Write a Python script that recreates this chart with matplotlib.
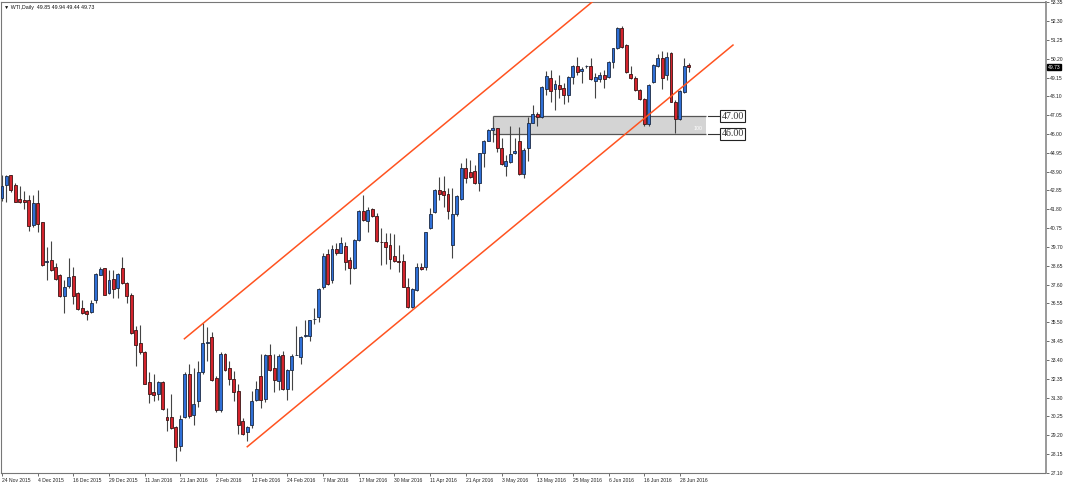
import numpy as np
import matplotlib
matplotlib.use("Agg")
import matplotlib.pyplot as plt
from matplotlib.transforms import blended_transform_factory

plt.rcParams['font.family'] = ['Liberation Sans', 'DejaVu Sans']

# WTI daily OHLC, bar 0 = 24 Nov 2015
opens = [42.43, 43.13, 43.69, 43.13, 42.38, 42.30, 42.30, 40.92, 42.15, 41.10,
         38.84, 38.97, 38.59, 38.12, 36.95, 37.51, 38.07, 37.15, 36.29, 36.12,
         36.07, 36.76, 38.16, 38.50, 37.15, 37.90, 37.41, 38.54, 37.69, 37.04,
         35.07, 34.34, 33.86, 32.17, 31.61, 31.51, 32.19, 30.20, 30.20, 29.66,
         28.61, 30.22, 32.60, 30.35, 31.10, 32.75, 34.34, 34.70, 32.41, 30.63,
         33.72, 32.94, 32.32, 31.66, 29.98, 29.36, 29.79, 31.14, 32.51, 31.24,
         33.67, 32.94, 32.23, 33.67, 31.80, 32.83, 33.67, 33.54, 34.74, 34.74,
         35.66, 35.79, 37.47, 39.29, 37.88, 39.60, 39.38, 39.75, 39.00, 38.51,
         40.09, 41.71, 41.17, 41.82, 41.43, 40.00, 40.00, 39.81, 39.21, 38.94,
         38.92, 37.49, 36.33, 37.30, 38.60, 38.60, 40.74, 41.63, 42.88, 42.82,
         42.65, 39.81, 41.52, 42.36, 44.09, 43.90, 43.96, 43.25, 44.92, 45.63,
         46.20, 46.32, 45.20, 44.23, 44.46, 44.94, 45.63, 43.75, 45.20, 46.63,
         47.10, 46.93, 48.51, 49.14, 48.51, 48.73, 48.55, 48.17, 49.16, 49.79,
         49.53, 49.77, 49.79, 48.97, 49.07, 49.29, 49.20, 50.00, 50.78, 51.89,
         50.96, 49.35, 49.10, 48.45, 47.93, 46.54, 48.88, 49.81, 50.26, 49.29,
         50.50, 47.77, 46.82, 48.32, 49.85]
highs = [43.70, 43.74, 43.74, 43.28, 43.09, 42.81, 42.62, 42.62, 42.86, 41.10,
         39.68, 40.05, 38.78, 38.22, 37.88, 39.10, 38.59, 37.19, 36.76, 36.20,
         36.76, 38.26, 38.59, 38.54, 38.40, 38.40, 38.26, 39.12, 37.75, 37.13,
         35.32, 35.35, 33.91, 32.70, 32.60, 32.23, 32.23, 30.73, 31.51, 29.70,
         30.32, 32.75, 33.16, 32.94, 33.35, 35.45, 35.22, 34.94, 32.51, 33.82,
         33.76, 33.35, 32.79, 32.04, 30.17, 29.70, 31.66, 32.23, 33.72, 33.72,
         34.29, 33.72, 33.72, 33.91, 32.88, 33.72, 35.32, 34.72, 35.60, 35.64,
         36.29, 37.41, 39.34, 39.57, 39.81, 39.90, 40.28, 39.99, 39.15, 40.14,
         41.76, 42.60, 41.95, 41.89, 41.58, 40.74, 40.46, 40.46, 40.40, 39.81,
         39.29, 37.99, 37.39, 38.79, 38.79, 40.55, 41.85, 42.93, 43.58, 43.66,
         42.97, 42.97, 42.60, 44.36, 44.68, 44.55, 44.27, 44.96, 45.67, 46.26,
         46.39, 46.35, 45.76, 44.83, 46.45, 45.76, 46.41, 45.20, 46.97, 47.62,
         47.25, 48.68, 49.51, 49.57, 49.01, 49.29, 48.83, 49.24, 49.85, 50.28,
         49.76, 49.85, 50.26, 49.38, 49.48, 49.57, 50.07, 50.82, 51.99, 52.04,
         51.00, 49.79, 49.24, 48.51, 47.99, 48.79, 49.89, 50.46, 50.63, 50.59,
         50.55, 47.90, 48.45, 50.26, 49.94]
lows = [42.24, 42.19, 42.77, 42.19, 42.15, 41.81, 40.60, 40.84, 40.56, 38.63,
        37.88, 38.35, 37.88, 36.91, 36.01, 37.41, 36.50, 36.20, 35.97, 35.64,
        36.01, 36.57, 38.12, 37.00, 37.10, 36.87, 36.85, 37.66, 36.57, 34.85,
        33.07, 33.72, 32.04, 31.01, 31.10, 31.14, 30.63, 29.45, 29.57, 27.77,
        28.30, 30.17, 30.17, 29.79, 30.77, 32.60, 33.35, 32.23, 30.50, 30.50,
        32.79, 32.00, 31.10, 29.27, 29.23, 28.86, 29.60, 31.10, 30.73, 31.07,
        32.79, 31.63, 31.70, 31.74, 31.14, 31.70, 33.65, 33.16, 34.66, 34.48,
        35.41, 35.54, 37.38, 37.60, 37.69, 39.25, 39.34, 38.40, 37.66, 38.47,
        40.03, 41.15, 40.55, 41.39, 40.00, 38.69, 38.73, 38.47, 38.88, 38.32,
        37.45, 36.28, 36.28, 37.24, 38.42, 38.42, 40.70, 41.57, 42.32, 41.95,
        41.26, 39.10, 41.45, 42.32, 43.25, 43.53, 43.21, 42.84, 44.18, 45.61,
        45.57, 44.98, 44.27, 43.66, 44.36, 44.86, 43.71, 43.53, 44.51, 46.60,
        46.46, 46.87, 48.17, 47.77, 47.34, 48.03, 47.65, 47.77, 48.77, 49.29,
        48.83, 49.66, 49.01, 47.99, 48.92, 48.55, 49.10, 49.70, 50.74, 50.81,
        49.38, 49.07, 48.40, 47.90, 46.45, 46.46, 48.83, 49.76, 48.51, 49.01,
        47.77, 46.04, 46.78, 48.27, 49.44]
closes = [43.09, 43.65, 42.90, 42.21, 42.21, 42.23, 40.88, 42.15, 40.97, 38.72,
          38.91, 38.40, 37.94, 36.96, 37.47, 38.03, 36.96, 36.22, 36.03, 35.97,
          36.59, 38.18, 38.46, 37.04, 37.88, 37.38, 38.18, 37.69, 36.95, 34.90,
          34.23, 33.86, 32.08, 31.51, 31.44, 32.19, 30.69, 30.03, 29.60, 28.54,
          30.13, 32.60, 30.26, 30.97, 32.73, 34.34, 34.42, 32.26, 30.63, 33.72,
          32.83, 32.32, 31.61, 29.79, 29.27, 29.66, 31.10, 31.76, 31.16, 33.67,
          32.83, 32.26, 33.63, 31.80, 32.83, 33.63, 33.70, 34.70, 34.77, 35.60,
          35.71, 37.38, 39.21, 37.66, 39.57, 39.34, 39.90, 38.87, 38.50, 40.09,
          41.72, 41.20, 41.76, 41.43, 40.05, 39.96, 39.72, 39.01, 38.94, 38.88,
          37.49, 36.33, 37.36, 38.60, 38.45, 40.52, 41.52, 42.88, 42.64, 42.60,
          41.71, 41.52, 42.54, 44.09, 43.56, 43.60, 43.25, 44.92, 45.63, 46.22,
          46.32, 45.20, 44.33, 44.49, 44.86, 45.05, 43.75, 45.11, 46.63, 47.12,
          46.93, 48.64, 49.24, 48.42, 48.77, 48.51, 48.17, 49.20, 49.79, 49.48,
          49.62, 49.79, 49.05, 49.16, 49.29, 49.05, 50.00, 50.78, 51.89, 50.87,
          49.44, 49.10, 48.45, 47.93, 46.54, 48.73, 49.85, 50.26, 49.10, 50.31,
          47.80, 46.82, 48.40, 49.81, 49.73]

date_labels = ["24 Nov 2015", "4 Dec 2015", "16 Dec 2015", "29 Dec 2015",
               "11 Jan 2016", "21 Jan 2016", "2 Feb 2016", "12 Feb 2016",
               "24 Feb 2016", "7 Mar 2016", "17 Mar 2016", "30 Mar 2016",
               "11 Apr 2016", "21 Apr 2016", "3 May 2016", "13 May 2016",
               "25 May 2016", "6 Jun 2016", "16 Jun 2016", "28 Jun 2016"]
price_ticks = [53.35, 52.30, 51.25, 50.20, 49.15, 48.10, 47.05, 46.00, 44.95,
               43.90, 42.85, 41.80, 40.75, 39.70, 38.65, 37.60, 36.55, 35.50,
               34.45, 33.40, 32.35, 31.30, 30.25, 29.20, 28.15, 27.10]

# channel anchors (bar index, price)
upper_x, upper_y = [40.9, 133.0], [34.58, 53.50]
lower_x, lower_y = [55.0, 163.9], [28.56, 50.96]
zone_x = [110, 157.8]
zone_lo, zone_hi = 46.00, 47.00
last_price = 49.73

o = np.array(opens); h = np.array(highs); l = np.array(lows); c = np.array(closes)
x = np.arange(len(o))
up = c >= o

fig = plt.figure(figsize=(10.68, 4.83), dpi=100)
ax = fig.add_axes([1 / 1068, 1 - 472.9 / 483, 1044.5 / 1068, 470.7 / 483])
ax.set_xlim(-0.22, 233.97)
ax.set_ylim(27.10, 53.35)

# wicks
ax.vlines(x, l, h, color="#444444", linewidth=0.8, zorder=2)
# bodies
body_lo = np.minimum(o, c)
body_h = np.maximum(np.abs(c - o), 0.02)
ax.bar(x[up], body_h[up], bottom=body_lo[up], width=0.66, color="#2f6fd6",
       edgecolor="#1b2a44", linewidth=0.6, zorder=3)
ax.bar(x[~up], body_h[~up], bottom=body_lo[~up], width=0.66, color="#d3232c",
       edgecolor="#3a1414", linewidth=0.6, zorder=3)

# support zone
ax.fill_between(zone_x, zone_lo, zone_hi, color="#d4d4d4", zorder=1, linewidth=0)
ax.hlines([zone_lo, zone_hi], zone_x[0], zone_x[1], color="#555555", linewidth=0.9, zorder=1.5)
ax.vlines(zone_x[0], zone_lo, zone_hi, color="#555555", linewidth=0.9, zorder=1.5)
ax.text(zone_x[1] - 0.8, (zone_lo + zone_hi) / 2 - 0.2, "100", color="white",
        fontsize=3.8, ha="right", va="center", zorder=4)

# channel
ax.plot(upper_x, upper_y, color="#ff5320", linewidth=1.1, zorder=4)
ax.plot(lower_x, lower_y, color="#ff5320", linewidth=1.1, zorder=4)

# price level labels
for lvl in (zone_hi, zone_lo):
    ax.plot([158.3, 161.2], [lvl, lvl], color="#333333", linewidth=0.8)
    ax.text(161.3, lvl, f"{lvl:.2f}", fontsize=7.2, family=["Liberation Serif", "DejaVu Serif"],
            color="#333333", ha="left", va="center",
            bbox=dict(boxstyle="square,pad=0.12", facecolor="white", edgecolor="#222222", linewidth=0.8))

# axes styling
for s in ax.spines.values():
    s.set_color("#777777")
    s.set_linewidth(0.8)
ax.spines["right"].set_linewidth(1.4)
ax.spines["right"].set_color("#999999")

ax.set_xticks(np.arange(0, 8 * len(date_labels), 8))
ax.set_xticklabels(date_labels, ha="left")
ax.tick_params(axis="x", length=2.5, width=0.6, color="#555555", pad=1.0,
               labelsize=3.6, labelcolor="#222222")
ax.yaxis.tick_right()
ax.set_yticks(price_ticks)
ax.set_yticklabels([f"{v:.2f}" for v in price_ticks])
ax.tick_params(axis="y", length=2.5, width=0.6, color="#555555", pad=1.0,
               labelsize=3.6, labelcolor="#222222")

# last price tag
tr = blended_transform_factory(ax.transAxes, ax.transData)
ax.text(1.0025, last_price, f"{last_price:.2f}", transform=tr, fontsize=3.6, color="white",
        ha="left", va="center", bbox=dict(boxstyle="square,pad=0.15", facecolor="black", edgecolor="black"),
        zorder=6, clip_on=False)

fig.text(4 / 1068, 1 - 8 / 483, "\u25bc WTI,Daily  49.85 49.94 49.44 49.73", fontsize=3.8,
         color="#111111", ha="left", va="center")

fig.savefig("out.png", dpi=100, facecolor="white")
